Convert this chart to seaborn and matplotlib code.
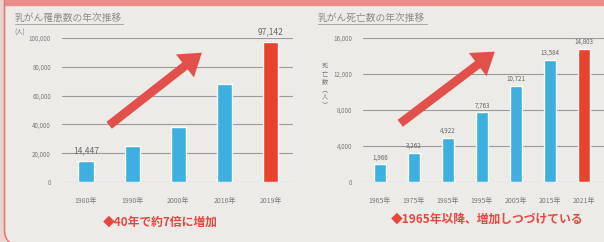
import matplotlib
matplotlib.use("Agg")
import matplotlib.pyplot as plt
import seaborn as sns
import pandas as pd
from matplotlib.patches import FancyArrowPatch, FancyBboxPatch, Rectangle

years_inc = ['1980年', '1990年', '2000年', '2010年', '2019年']
incidence = [14447, 25000, 38000, 68000, 97142]
years_dth = ['1965年', '1975年', '1985年', '1995年', '2005年', '2015年', '2021年']
deaths = [1966, 3262, 4922, 7763, 10721, 13584, 14803]
inc_ticks = [0, 20000, 40000, 60000, 80000, 100000]
dth_ticks = [0, 4000, 8000, 12000, 16000]

sns.set_style("white")
plt.rcParams['font.family'] = ['Noto Sans CJK JP', 'DejaVu Sans']

BG = '#ECEBE8'
BLUE = '#3DAFE0'
RED = '#E8432C'
ARROW = '#E2504C'
GRID = '#9A9A9A'
TXT = '#7A7A7A'

fig = plt.figure(figsize=(6.04, 2.42), dpi=100)
fig.patch.set_facecolor(BG)

# poster frame: pink band on top, rounded red border on the left
fig.add_artist(Rectangle((0, 1 - 5 / 242), 1, 5 / 242, transform=fig.transFigure,
                         color='#E98C8A', zorder=0))
fig.add_artist(Rectangle((0, 0), 4 / 604, 1, transform=fig.transFigure,
                         color='#EBD3CF', zorder=0))
fig.add_artist(FancyBboxPatch((0.045, -0.03), 10, 5,
                              boxstyle="round,pad=0,rounding_size=0.15",
                              transform=fig.dpi_scale_trans, fill=False,
                              ec='#E27A78', lw=1.2, zorder=1))
fig.add_artist(FancyBboxPatch((6.0, -1), 1, 1.03,
                              boxstyle="round,pad=0,rounding_size=0.08",
                              transform=fig.dpi_scale_trans, fill=False,
                              ec='#E27A78', lw=1.2, zorder=1))


def draw(ax, cats, vals, ticks, xlim, width, labels, lab_size, lab_off):
    df = pd.DataFrame({'year': cats, 'n': vals})
    pal = [BLUE] * (len(cats) - 1) + [RED]
    sns.barplot(data=df, x='year', y='n', hue='year', palette=pal,
                width=width, legend=False, ax=ax, saturation=1, zorder=3)
    ax.set_facecolor('none')
    ax.set_xlim(*xlim)
    ax.set_ylim(ticks[0], ticks[-1])
    ax.set_yticks(ticks)
    ax.set_yticklabels([f'{t:,}' for t in ticks], fontsize=4.5, color=TXT)
    ax.tick_params(axis='y', length=0, pad=8)
    ax.tick_params(axis='x', length=0, pad=11, labelsize=5, labelcolor=TXT)
    ax.grid(axis='y', color=GRID, lw=0.8, zorder=1)
    ax.set_axisbelow(True)
    for s in ax.spines.values():
        s.set_visible(False)
    ax.set_xlabel('')
    ax.set_ylabel('')
    for i in labels:
        ax.annotate(f'{vals[i]:,}', (i, vals[i]), xytext=(0, lab_off),
                    textcoords='offset points', ha='center', va='bottom',
                    fontsize=lab_size, color='#666666', annotation_clip=False)


ax1 = fig.add_axes([62 / 604, 60 / 242, 231 / 604, 144 / 242])
draw(ax1, years_inc, incidence, inc_ticks, (-0.52, 4.48), 0.33, [0, 4], 6, 4)

ax2 = fig.add_axes([363 / 604, 60 / 242, 241 / 604, 144 / 242])
draw(ax2, years_dth, deaths, dth_ticks, (-0.5, 6.59), 0.35,
     range(len(deaths)), 4.5, 2)

# titles
for x0, x1, t in [(15, 123, '乳がん罹患数の年次推移'), (318, 427, '乳がん死亡数の年次推移')]:
    fig.text(x0 / 604, 1 - 18 / 242, t, fontsize=7, color='#8A8A8A',
             ha='left', va='center')
    fig.add_artist(plt.Line2D([x0 / 604, x1 / 604], [1 - 24 / 242] * 2,
                              color='#9A9A9A', lw=0.6, transform=fig.transFigure))

fig.text(14 / 604, 1 - 33 / 242, '(人)', fontsize=4.5, color=TXT, ha='left', va='center')
fig.text(325 / 604, 1 - 85 / 242, '死\n亡\n数\n︵\n人\n︶', fontsize=4.5, color=TXT,
         ha='center', va='center', linespacing=0.95)

# red comments
fig.text(160 / 604, 1 - 222 / 242, '◆40年で約7倍に増加', fontsize=8.5,
         fontweight='bold', color='#E8473F', ha='center', va='center')
fig.text(487 / 604, 1 - 219 / 242, '◆1965年以降、増加しつづけている', fontsize=8.5,
         fontweight='bold', color='#E8473F', ha='center', va='center')

# big hand-drawn arrows
for (x0, y0), (x1, y1) in [((107, 127), (204, 51)), ((398, 125), (497, 50))]:
    fig.add_artist(FancyArrowPatch((x0 / 604, 1 - y0 / 242), (x1 / 604, 1 - y1 / 242),
                                   transform=fig.transFigure,
                                   arrowstyle='simple,head_length=1.1,head_width=1.5,tail_width=0.45',
                                   mutation_scale=14, color=ARROW, lw=0, zorder=5))

fig.savefig('out.png', dpi=100, facecolor=fig.get_facecolor())
